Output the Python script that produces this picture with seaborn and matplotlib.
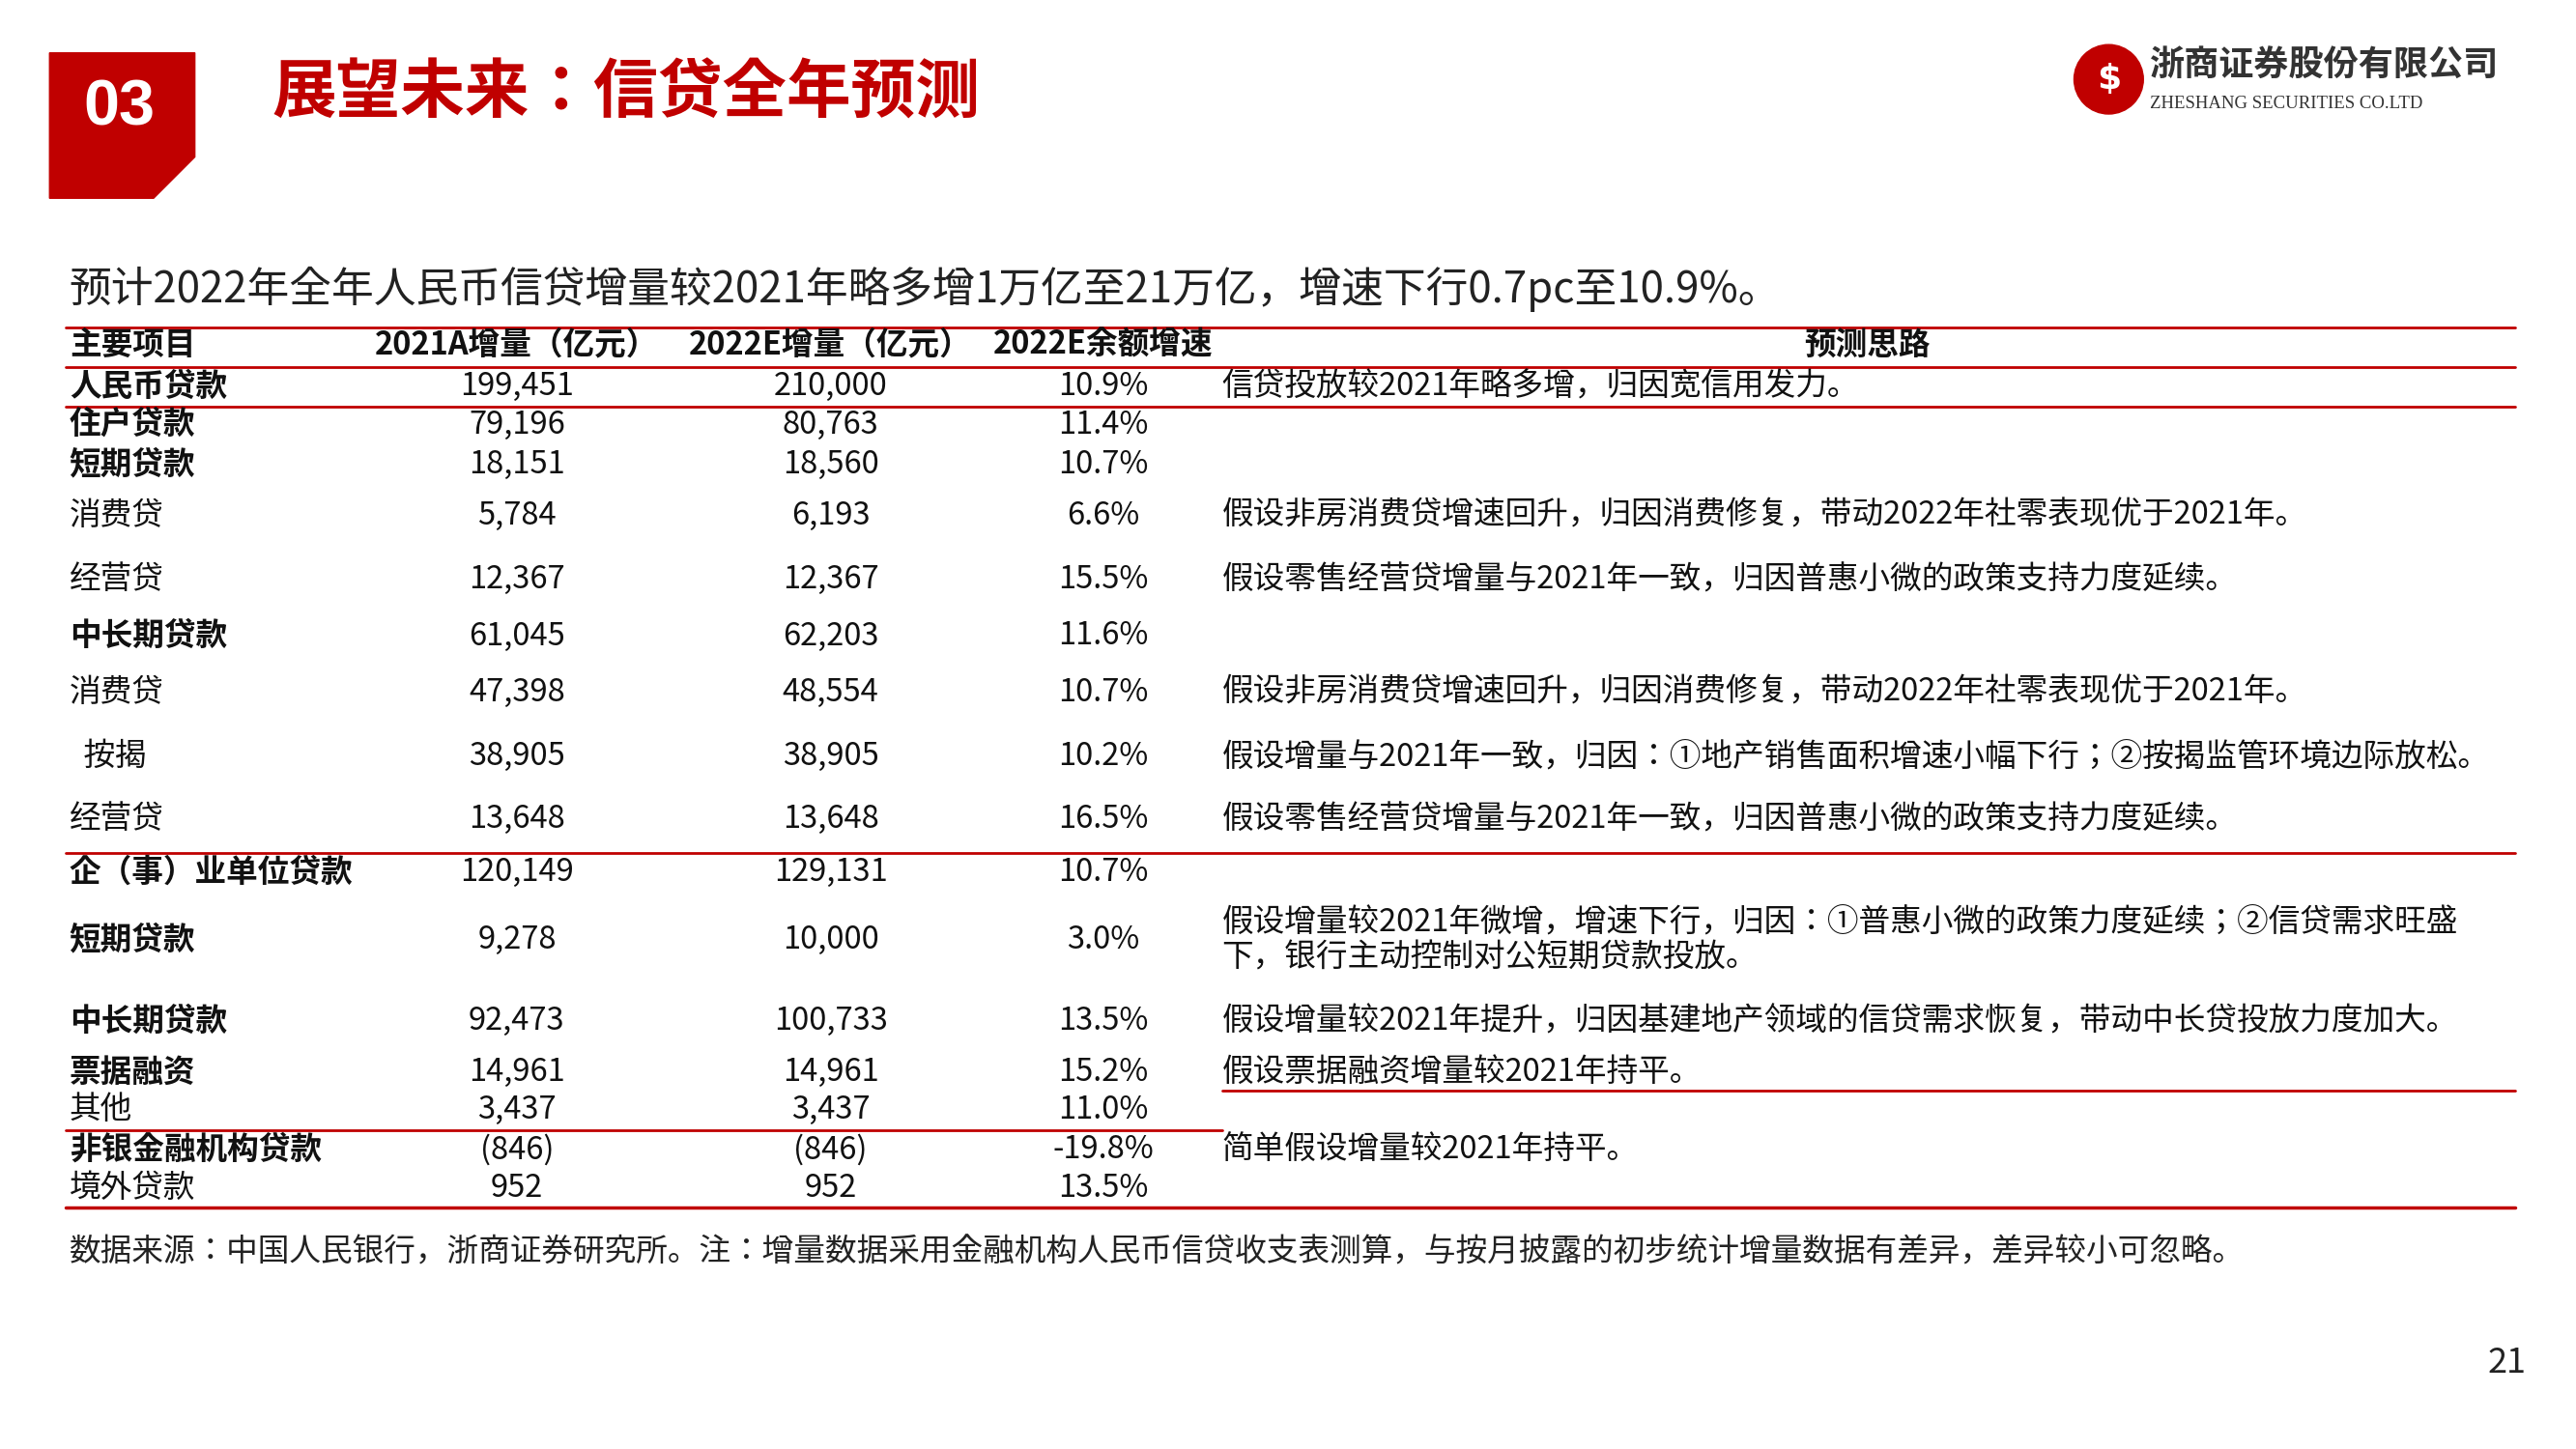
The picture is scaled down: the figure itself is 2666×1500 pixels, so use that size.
import matplotlib.pyplot as plt
import seaborn as sns
from matplotlib import font_manager as fm
from matplotlib.patches import Polygon, Circle

sns.set_theme(style="white")

# locate a CJK font file
cjk_files = [f for f in fm.findSystemFonts() if "cjk" in f.lower()]
for f in cjk_files:
    try:
        fm.fontManager.addfont(f)
    except Exception:
        pass
names = sorted({e.name for e in fm.fontManager.ttflist if "CJK" in e.name})
CJK = "Noto Sans CJK SC" if "Noto Sans CJK SC" in names else (names[0] if names else "DejaVu Sans")

RED = "#c00000"
W, H = 1560, 877  # layout grid (reference in display px)

labels = ["人民币贷款", "住户贷款", "短期贷款", "消费贷", "经营贷", "中长期贷款", "消费贷", "  按揭", "经营贷",
          "企（事）业单位贷款", "短期贷款", "中长期贷款", "票据融资", "其他", "非银金融机构贷款", "境外贷款"]
bold = [1, 1, 1, 0, 0, 1, 0, 0, 0, 1, 1, 1, 1, 0, 1, 0]
inc_2021 = ["199,451", "79,196", "18,151", "5,784", "12,367", "61,045", "47,398", "38,905", "13,648",
            "120,149", "9,278", "92,473", "14,961", "3,437", "(846)", "952"]
inc_2022 = ["210,000", "80,763", "18,560", "6,193", "12,367", "62,203", "48,554", "38,905", "13,648",
            "129,131", "10,000", "100,733", "14,961", "3,437", "(846)", "952"]
growth = ["10.9%", "11.4%", "10.7%", "6.6%", "15.5%", "11.6%", "10.7%", "10.2%", "16.5%",
          "10.7%", "3.0%", "13.5%", "15.2%", "11.0%", "-19.8%", "13.5%"]
notes = ["信贷投放较2021年略多增，归因宽信用发力。", "", "",
         "假设非房消费贷增速回升，归因消费修复，带动2022年社零表现优于2021年。",
         "假设零售经营贷增量与2021年一致，归因普惠小微的政策支持力度延续。", "",
         "假设非房消费贷增速回升，归因消费修复，带动2022年社零表现优于2021年。",
         "假设增量与2021年一致，归因：①地产销售面积增速小幅下行；②按揭监管环境边际放松。",
         "假设零售经营贷增量与2021年一致，归因普惠小微的政策支持力度延续。", "",
         "假设增量较2021年微增，增速下行，归因：①普惠小微的政策力度延续；②信贷需求旺盛\n下，银行主动控制对公短期贷款投放。",
         "假设增量较2021年提升，归因基建地产领域的信贷需求恢复，带动中长贷投放力度加大。",
         "假设票据融资增量较2021年持平。", "", "简单假设增量较2021年持平。", ""]
headers = ["主要项目", "2021A增量（亿元）", "2022E增量（亿元）", "2022E余额增速", "预测思路"]
row_y = [234, 257, 281, 312, 351, 385, 419, 458, 496, 528, 569, 618, 649, 672, 696, 719]

fig = plt.figure(figsize=(26.66, 15), dpi=100)
ax = fig.add_axes([0, 0, 1, 1])
ax.set_xlim(0, W)
ax.set_ylim(H, 0)
ax.axis("off")


def txt(x, y, s, size, family=None, **kw):
    ax.text(x, y, s, fontsize=size, va="center", family=family or CJK, **kw)


# header block
ax.add_patch(Polygon([(30, 32), (118, 32), (118, 95), (93, 120), (30, 120)], color=RED))
txt(72, 66, "03", 48, color="white", ha="center", weight="bold", family="Liberation Sans")
txt(165, 57, "展望未来：信贷全年预测", 48, color=RED, weight="bold")
ax.add_patch(Circle((1277, 48), 21, color=RED))
txt(1277, 48, "$", 26, color="white", ha="center", weight="bold", family="DejaVu Sans")
txt(1302, 40, "浙商证券股份有限公司", 26, color="#333333", weight="bold")
txt(1302, 63, "ZHESHANG SECURITIES CO.LTD", 13.5, color="#333333", family="Liberation Serif")

txt(42, 175, "预计2022年全年人民币信贷增量较2021年略多增1万亿至21万亿，增速下行0.7pc至10.9%。", 31.5, color="#222222")

# table
FS = 23.5
col_x = [42, 313, 503, 668, 1131]
for i, h in enumerate(headers):
    txt(col_x[i], 209, h, FS, ha="left" if i == 0 else "center", weight="bold", color="#111111")

for i, y in enumerate(row_y):
    txt(42, y, labels[i], FS, weight="bold" if bold[i] else "normal", color="#111111")
    txt(313, y, inc_2021[i], FS, ha="center", color="#111111")
    txt(503, y, inc_2022[i], FS, ha="center", color="#111111")
    txt(668, y, growth[i], FS, ha="center", color="#111111")
    if notes[i]:
        txt(740, y, notes[i], FS, color="#111111", linespacing=1.2)

for y, x0, x1, lw in [(198, 40, 1523, 2), (222, 40, 1523, 2), (246, 40, 1523, 2), (516, 40, 1523, 2),
                      (660, 740, 1523, 2), (684, 40, 740, 2), (731, 40, 1523, 2.5)]:
    ax.plot([x0, x1], [y, y], color=RED, lw=lw)

txt(42, 758, "数据来源：中国人民银行，浙商证券研究所。注：增量数据采用金融机构人民币信贷收支表测算，与按月披露的初步统计增量数据有差异，差异较小可忽略。",
    23.5, color="#222222")
txt(1518, 825, "21", 26, ha="center", color="#222222")

fig.savefig("out.png", dpi=100, facecolor="white")
